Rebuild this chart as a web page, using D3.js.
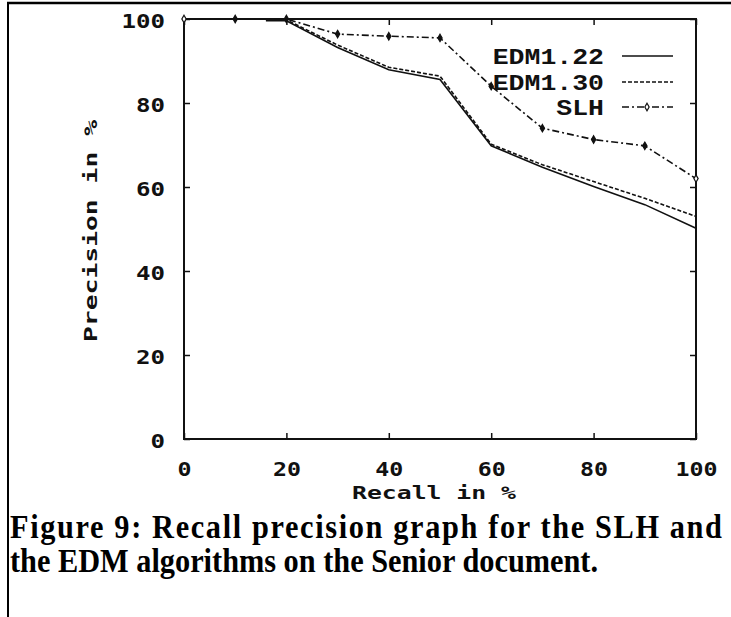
<!DOCTYPE html>
<html lang="en">
  <head>
    <meta charset="UTF-8" />
    <title>Recall precision graph</title>
    <script src="https://cdn.jsdelivr.net/npm/d3@7"></script>
    <style>
      body { margin: 0; background: #fff; }
      svg { display: block; }
    </style>
  </head>
  <body>
    <div id="chart"></div>
    <script>
      // recall values (x) and precision values (y)
      const slhRecall = [0, 10, 20, 30, 40, 50, 60, 70, 80, 90, 100]
      const slhPrecision = [100, 100, 100, 96.4, 95.9, 95.5, 84, 74, 71.3, 69.8, 62]
      const edmRecall = [16, 20, 30, 40, 50, 60, 70, 80, 90, 100]
      const edm122 = [99.6, 99.6, 93.2, 87.9, 85.6, 69.8, 64.7, 60.1, 55.8, 50.2]
      const edm130 = [99.8, 99.8, 93.8, 88.5, 86.4, 70.2, 65.3, 61.3, 57.3, 53]
      const xTicks = [0, 20, 40, 60, 80, 100]
      const yTicks = [0, 20, 40, 60, 80, 100]
      const seriesNames = ['EDM1.22', 'EDM1.30', 'SLH']

      const W = 731, H = 617
      const pLeft = 184, pRight = 696, pTop = 19, pBottom = 439
      const ink = '#111'

      const svg = d3.select('#chart').append('svg')
        .attr('width', W).attr('height', H)

      // page borders
      svg.append('line').attr('x1', 7).attr('x2', W).attr('y1', 3).attr('y2', 3)
        .attr('stroke', '#000').attr('stroke-width', 2.5)
      svg.append('line').attr('x1', 8).attr('x2', 8).attr('y1', 2).attr('y2', H)
        .attr('stroke', '#000').attr('stroke-width', 2)

      const x = d3.scaleLinear().domain([0, 100]).range([pLeft, pRight])
      const y = d3.scaleLinear().domain([0, 100]).range([pBottom, pTop])

      const tickFont = 'DejaVu Sans Mono, monospace'

      const styleAxis = g => {
        g.select('.domain').remove()
        g.selectAll('.tick line').attr('stroke', ink).attr('stroke-width', 1.5)
      }

      // bottom axis with labels
      const gx = svg.append('g').attr('transform', `translate(0,${pBottom})`)
        .call(d3.axisBottom(x).tickValues(xTicks).tickSize(-6).tickPadding(23).tickFormat(d3.format('d')))
      styleAxis(gx)
      gx.selectAll('text')
        .attr('font-family', tickFont).attr('font-weight', 'bold').attr('font-size', 20)
        .attr('fill', ink)
        .attr('textLength', d => String(d).length * 14)
        .attr('lengthAdjust', 'spacingAndGlyphs')

      // left axis with labels
      const gy = svg.append('g').attr('transform', `translate(${pLeft},0)`)
        .call(d3.axisLeft(y).tickValues(yTicks).tickSize(-6).tickPadding(19).tickFormat(d3.format('d')))
      styleAxis(gy)
      gy.selectAll('text')
        .attr('font-family', tickFont).attr('font-weight', 'bold').attr('font-size', 20)
        .attr('fill', ink).attr('dy', '0.42em')
        .attr('textLength', d => String(d).length * 14.5)
        .attr('lengthAdjust', 'spacingAndGlyphs')

      // top and right ticks, no labels
      styleAxis(svg.append('g').attr('transform', `translate(0,${pTop})`)
        .call(d3.axisTop(x).tickValues(xTicks).tickSize(-6).tickFormat('')))
      styleAxis(svg.append('g').attr('transform', `translate(${pRight},0)`)
        .call(d3.axisRight(y).tickValues(yTicks).tickSize(-6).tickFormat('')))

      // frame
      svg.append('rect')
        .attr('x', pLeft).attr('y', pTop)
        .attr('width', pRight - pLeft).attr('height', pBottom - pTop)
        .attr('fill', 'none').attr('stroke', ink).attr('stroke-width', 2)

      // axis titles
      svg.append('text')
        .attr('x', (pLeft + pRight) / 2 - 6).attr('y', 499)
        .attr('text-anchor', 'middle')
        .attr('font-family', tickFont).attr('font-weight', 'bold').attr('font-size', 18)
        .attr('textLength', 164).attr('lengthAdjust', 'spacingAndGlyphs')
        .attr('fill', ink)
        .text('Recall in %')

      svg.append('text')
        .attr('transform', `translate(97,${(pTop + pBottom) / 2 + 2}) rotate(-90)`)
        .attr('text-anchor', 'middle')
        .attr('font-family', tickFont).attr('font-weight', 'bold').attr('font-size', 18)
        .attr('textLength', 222).attr('lengthAdjust', 'spacingAndGlyphs')
        .attr('fill', ink)
        .text('Precision in %')

      // lines
      const line = d3.line().x(d => x(d[0])).y(d => y(d[1]))
      const series = [
        { name: seriesNames[0], pts: d3.zip(edmRecall, edm122), dash: null },
        { name: seriesNames[1], pts: d3.zip(edmRecall, edm130), dash: '4,2' },
        { name: seriesNames[2], pts: d3.zip(slhRecall, slhPrecision), dash: '7,3,2,3', marks: true }
      ]

      svg.append('g').selectAll('path').data(series).join('path')
        .attr('d', d => line(d.pts))
        .attr('fill', 'none').attr('stroke', ink).attr('stroke-width', 1.6)
        .attr('stroke-dasharray', d => d.dash)

      const diamond = d3.symbol().type(d3.symbolDiamond).size(16)
      svg.append('g').selectAll('path')
        .data(series[2].pts).join('path')
        .attr('transform', d => `translate(${x(d[0])},${y(d[1])})`)
        .attr('d', diamond)
        .attr('fill', (d, i) => (i === 0 || i === series[2].pts.length - 1) ? '#fff' : ink)
        .attr('stroke', ink).attr('stroke-width', 1.2)

      // legend
      const legendY = [56, 82, 107]
      const lg = svg.append('g').selectAll('g').data(series).join('g')
        .attr('transform', (d, i) => `translate(0,${legendY[i]})`)
      lg.append('text')
        .attr('x', 604).attr('y', 0).attr('dy', '0.36em')
        .attr('text-anchor', 'end')
        .attr('font-family', 'Liberation Mono, Courier New, monospace')
        .attr('font-weight', 'bold').attr('font-size', 22)
        .attr('textLength', d => d.name.length * 15.9)
        .attr('lengthAdjust', 'spacingAndGlyphs')
        .attr('fill', ink)
        .text(d => d.name)
      lg.append('line')
        .attr('x1', 622).attr('x2', 673)
        .attr('stroke', ink).attr('stroke-width', 1.6)
        .attr('stroke-dasharray', d => d.dash)
      lg.filter(d => d.marks).append('path')
        .attr('transform', 'translate(647,0)')
        .attr('d', diamond)
        .attr('fill', '#fff').attr('stroke', ink).attr('stroke-width', 1.2)

      // caption, slightly condensed like the original typesetting
      const capScale = 0.92
      const cap = svg.append('g')
        .attr('transform', `translate(10,0) scale(${capScale},1)`)
        .attr('font-family', 'Liberation Serif, Times New Roman, serif')
        .attr('font-weight', 'bold').attr('font-size', 33).attr('fill', '#000')
      cap.append('text').attr('x', 0).attr('y', 538)
        .attr('textLength', 712 / capScale).attr('lengthAdjust', 'spacing')
        .text('Figure 9: Recall precision graph for the SLH and')
      cap.append('text').attr('x', 0).attr('y', 572)
        .attr('textLength', 588 / capScale).attr('lengthAdjust', 'spacingAndGlyphs')
        .text('the EDM algorithms on the Senior document.')
    </script>
  </body>
</html>
